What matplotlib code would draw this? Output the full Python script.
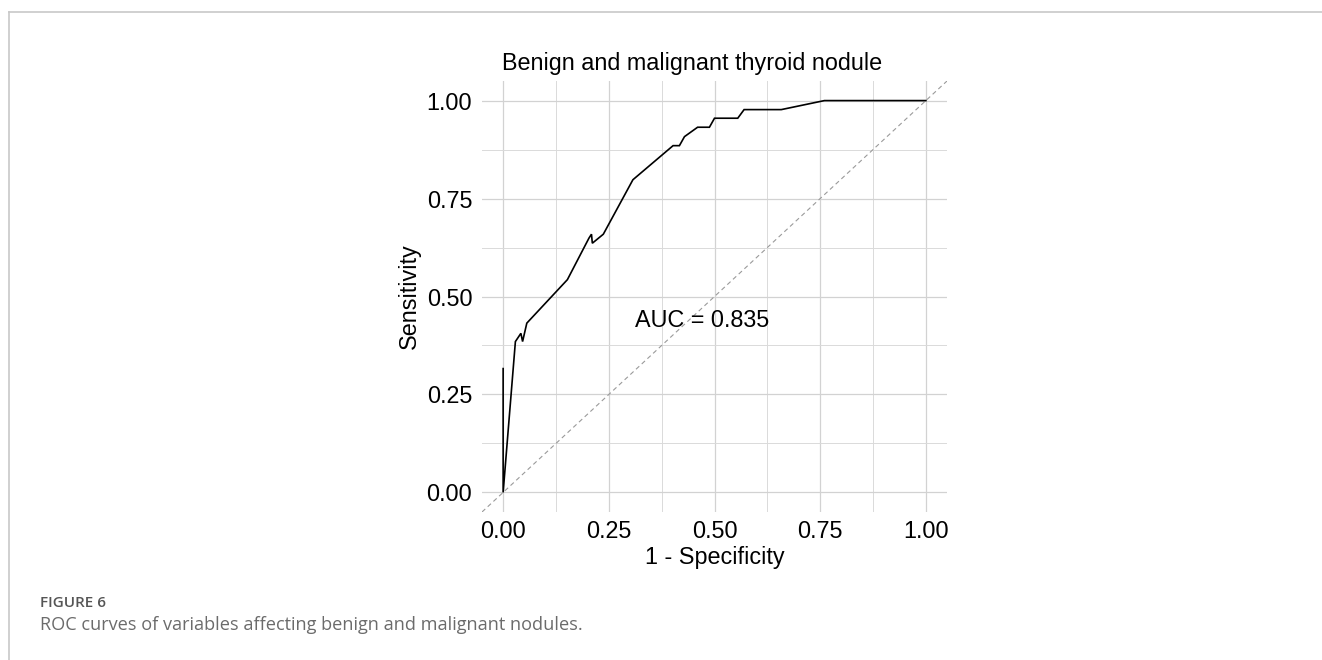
import matplotlib
matplotlib.use("Agg")
import matplotlib.pyplot as plt
from matplotlib.lines import Line2D

# ---- data ----
fpr = [0.000, 0.000, 0.029, 0.042, 0.046, 0.056, 0.152, 0.203, 0.209, 0.211,
       0.237, 0.307, 0.402, 0.417, 0.429, 0.460, 0.488, 0.500, 0.555, 0.570,
       0.658, 0.760, 1.000]
tpr = [0.316, 0.000, 0.385, 0.406, 0.385, 0.432, 0.543, 0.649, 0.659, 0.636,
       0.659, 0.798, 0.885, 0.885, 0.908, 0.932, 0.932, 0.955, 0.955, 0.977,
       0.977, 1.000, 1.000]
ticks = [0.0, 0.25, 0.5, 0.75, 1.0]
tick_labels = ["0.00", "0.25", "0.50", "0.75", "1.00"]
minor_ticks = [0.125, 0.375, 0.625, 0.875]
auc_value = 0.835
title = "Benign and malignant thyroid nodule"
xlab = "1 - Specificity"
ylab = "Sensitivity"
fig_label = "FIGURE 6"
caption = "ROC curves of variables affecting benign and malignant nodules."

plt.rcParams['font.family'] = ['Liberation Sans', 'DejaVu Sans']

W, H = 1322, 660
fig = plt.figure(figsize=(W / 100, H / 100), dpi=100)

# panel in pixel coordinates
L, R, T, B = 482, 947, 81, 512
ax = fig.add_axes([L / W, 1 - B / H, (R - L) / W, (B - T) / H])
ax.set_xlim(-0.05, 1.05)
ax.set_ylim(-0.05, 1.05)
for s in ax.spines.values():
    s.set_visible(False)

ax.set_xticks(ticks)
ax.set_xticklabels(tick_labels)
ax.set_yticks(ticks)
ax.set_yticklabels(tick_labels)
ax.set_xticks(minor_ticks, minor=True)
ax.set_yticks(minor_ticks, minor=True)
ax.tick_params(which='both', length=0)
ax.tick_params(axis='x', pad=6, labelsize=16.8, colors='black')
ax.tick_params(axis='y', pad=7, labelsize=16.8, colors='black')
ax.grid(which='major', color='#d2d2d2', linewidth=0.9)
ax.grid(which='minor', color='#dadada', linewidth=0.7)
ax.set_axisbelow(True)

# diagonal reference
ax.plot([-0.05, 1.05], [-0.05, 1.05], color='#9a9a9a', linewidth=0.8,
        linestyle=(0, (4, 3)))
# ROC curve
ax.plot(fpr, tpr, color='black', linewidth=1.2, solid_joinstyle='miter')

ax.text(0.47, 0.44, f"AUC = {auc_value:.3f}", ha='center', va='center',
        fontsize=16.8, color='black')

ax.set_xlabel(xlab, fontsize=16.8, labelpad=2)
ax.set_ylabel(ylab, fontsize=16.8, labelpad=4)

fig.text(692 / W, 1 - 70 / H, title, ha='center', va='baseline', fontsize=16.8)

# frame lines of the figure page
fig.add_artist(Line2D([9 / W, 1.0], [1 - 12 / H, 1 - 12 / H], color='#c8c8c8',
                      linewidth=1.2, transform=fig.transFigure))
fig.add_artist(Line2D([9 / W, 9 / W], [0.0, 1 - 12 / H], color='#c8c8c8',
                      linewidth=1.2, transform=fig.transFigure))

# caption
fig.text(40 / W, 1 - 603 / H, fig_label, ha='left', va='center', fontsize=11,
         color='#555555', family=['Open Sans', 'DejaVu Sans'], fontweight='semibold')
fig.text(40 / W, 1 - 625 / H, caption, ha='left', va='center', fontsize=13.1,
         color='#6b6b6b', family=['Open Sans', 'DejaVu Sans'])

fig.savefig("out.png", dpi=100)
